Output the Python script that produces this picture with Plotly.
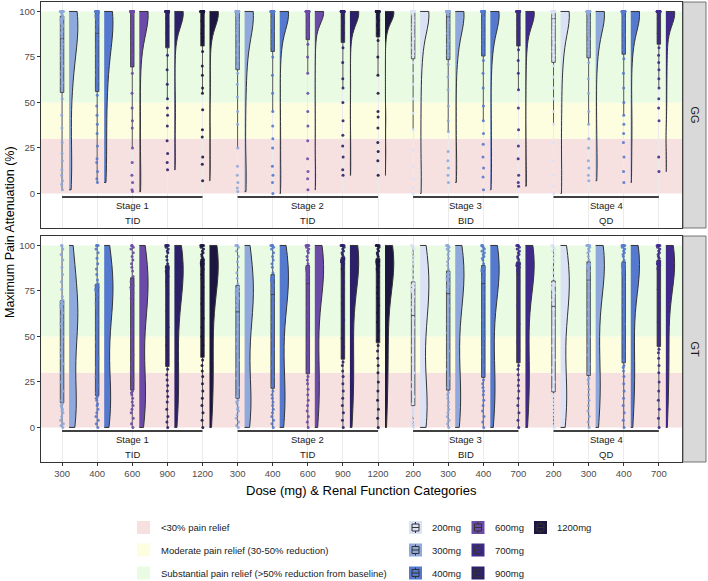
import plotly.graph_objects as go

# ------------------------------------------------------------------ data
TICK_LABELS = ["300", "400", "600", "900", "1200",
               "300", "400", "600", "900", "1200",
               "200", "300", "400", "700",
               "200", "300", "400", "700"]
STAGE_OF = ["Stage 1"] * 5 + ["Stage 2"] * 5 + ["Stage 3"] * 4 + ["Stage 4"] * 4
REGIMEN = {"Stage 1": "TID", "Stage 2": "TID", "Stage 3": "BID", "Stage 4": "QD"}
GENOTYPES = ["GG", "GT"]

DOSE_COLORS = {"200mg": "#dbe2f5", "300mg": "#8fa9dc", "400mg": "#5579cf",
               "600mg": "#6b4aa8", "700mg": "#3f2a8c", "900mg": "#2c2068",
               "1200mg": "#1c1640"}

BAND_LIMITS = [(0, 30), (30, 50), (50, 100)]
BAND_LABELS = ["<30% pain relief", "Moderate pain relief (30-50% reduction)",
               "Substantial pain relief (>50% reduction from baseline)"]
BAND_COLORS = ["#f7e0e0", "#fdfde0", "#e9fce3"]

# GG genotype, maximum pain attenuation (%) per dose group
gg_s1_300 = [2, 5, 7, 10, 13, 18, 22, 28, 36, 43, 52, 59, 61, 64, 67, 70, 73, 76, 78, 80, 82, 84,
             86, 88, 89, 91, 92, 93, 94, 95, 96, 96, 97, 98, 99, 100, 100, 100, 100, 100, 100, 100, 100, 100]
gg_s1_400 = [6, 8, 12, 17, 19, 26, 33, 38, 43, 48, 54, 58, 62, 65, 68, 71, 74, 77, 79, 82, 85, 87,
             89, 90, 92, 93, 94, 95, 96, 97, 97, 98, 99, 100, 100, 100, 100, 100, 100, 100, 100, 100, 100, 100]
gg_s1_600 = [1, 2, 6, 10, 17, 25, 36, 40, 47, 55, 66, 73, 76, 80, 84, 87, 90, 92, 94, 96, 98, 99,
             100, 100, 100, 100, 100, 100, 100, 100, 100, 100, 100, 100, 100, 100, 100, 100, 100, 100, 100, 100, 100, 100]
gg_s1_900 = [13, 17, 22, 29, 37, 43, 47, 52, 60, 68, 76, 84, 86, 88, 90, 92, 94, 96, 97, 98, 99, 100,
             100, 100, 100, 100, 100, 100, 100, 100, 100, 100, 100, 100, 100, 100, 100, 100, 100, 100, 100, 100, 100, 100]
gg_s1_1200 = [7, 16, 20, 31, 35, 46, 55, 58, 65, 70, 78, 84, 86, 88, 90, 92, 94, 95, 97, 98, 99, 100,
              100, 100, 100, 100, 100, 100, 100, 100, 100, 100, 100, 100, 100, 100, 100, 100, 100, 100, 100, 100, 100, 100]
gg_s2_300 = [1, 3, 6, 10, 15, 25, 38, 45, 53, 60, 66, 70, 73, 76, 79, 82, 85, 88, 90, 92, 94, 96,
             97, 98, 99, 100, 100, 100, 100, 100, 100, 100, 100, 100, 100, 100, 100, 100, 100, 100, 100, 100, 100, 100]
gg_s2_400 = [0, 6, 10, 15, 25, 30, 37, 45, 55, 65, 75, 81, 83, 85, 87, 89, 91, 93, 95, 96, 98, 99,
             100, 100, 100, 100, 100, 100, 100, 100, 100, 100, 100, 100, 100, 100, 100, 100, 100, 100, 100, 100, 100, 100]
gg_s2_600 = [2, 8, 12, 19, 29, 37, 45, 55, 66, 75, 82, 87, 89, 91, 93, 95, 97, 98, 99,
             100, 100, 100, 100, 100, 100, 100, 100, 100, 100, 100, 100, 100, 100, 100, 100, 100, 100, 100, 100, 100, 100, 100, 100, 100]
gg_s2_900 = [10, 13, 20, 26, 32, 40, 50, 58, 63, 72, 80, 86, 88, 90, 92, 94, 96, 97, 98, 99,
             100, 100, 100, 100, 100, 100, 100, 100, 100, 100, 100, 100, 100, 100, 100, 100, 100, 100, 100, 100, 100, 100, 100, 100]
gg_s2_1200 = [10, 18, 23, 28, 36, 42, 45, 55, 65, 75, 84, 88, 90, 92, 93, 95, 96, 97, 98, 99,
              100, 100, 100, 100, 100, 100, 100, 100, 100, 100, 100, 100, 100, 100, 100, 100, 100, 100, 100, 100, 100, 100, 100, 100]
gg_s3_200 = [0, 3, 8, 15, 24, 35, 44, 52, 60, 66, 72, 76, 78, 80, 83, 85, 87, 89, 91, 93, 95, 97, 98, 99,
             100, 100, 100, 100, 100, 100, 100, 100, 100, 100, 100, 100, 100, 100, 100, 100, 100, 100, 100, 100]
gg_s3_300 = [6, 10, 14, 18, 23, 34, 40, 48, 57, 64, 71, 76, 78, 80, 82, 84, 86, 88, 90, 92, 94, 96, 98, 99,
             100, 100, 100, 100, 100, 100, 100, 100, 100, 100, 100, 100, 100, 100, 100, 100, 100, 100, 100, 100]
gg_s3_400 = [2, 9, 14, 20, 27, 33, 40, 48, 58, 66, 73, 78, 80, 82, 84, 86, 88, 90, 92, 94, 96, 97, 98, 99,
             100, 100, 100, 100, 100, 100, 100, 100, 100, 100, 100, 100, 100, 100, 100, 100, 100, 100, 100, 100]
gg_s3_700 = [4, 6, 10, 19, 26, 35, 47, 57, 66, 73, 79, 83, 85, 87, 89, 91, 93, 95, 96, 97, 98, 99,
             100, 100, 100, 100, 100, 100, 100, 100, 100, 100, 100, 100, 100, 100, 100, 100, 100, 100, 100, 100, 100, 100]
gg_s4_200 = [0, 4, 10, 18, 28, 38, 45, 52, 58, 64, 70, 74, 76, 78, 80, 83, 85, 87, 89, 91, 93, 95, 97, 99,
             100, 100, 100, 100, 100, 100, 100, 100, 100, 100, 100, 100, 100, 100, 100, 100, 100, 100, 100, 100]
gg_s4_300 = [7, 10, 14, 18, 25, 30, 38, 45, 55, 63, 72, 77, 79, 81, 83, 85, 87, 89, 91, 93, 95, 97, 98, 99,
             100, 100, 100, 100, 100, 100, 100, 100, 100, 100, 100, 100, 100, 100, 100, 100, 100, 100, 100, 100]
gg_s4_400 = [6, 12, 20, 28, 33, 38, 43, 50, 58, 66, 74, 79, 81, 83, 85, 87, 89, 91, 93, 95, 96, 97, 98, 99,
             100, 100, 100, 100, 100, 100, 100, 100, 100, 100, 100, 100, 100, 100, 100, 100, 100, 100, 100, 100]
gg_s4_700 = [12, 20, 40, 47, 52, 58, 63, 68, 72, 76, 80, 84, 86, 88, 90, 92, 94, 96, 97, 98, 99,
             100, 100, 100, 100, 100, 100, 100, 100, 100, 100, 100, 100, 100, 100, 100, 100, 100, 100, 100, 100, 100, 100, 100]

# GT genotype
gt_s1_300 = [0, 1, 2, 4, 6, 8, 9, 10, 11, 12, 13, 15, 20, 25, 30, 35, 38, 41, 44, 47, 50, 53,
             55, 57, 59, 61, 63, 65, 66, 67, 68, 69, 70, 72, 76, 80, 84, 88, 92, 95, 98, 100, 100]
gt_s1_400 = [0, 2, 4, 6, 8, 10, 12, 13, 15, 16, 17, 19, 23, 28, 33, 38, 43, 47, 52, 56, 60, 63,
             66, 68, 70, 72, 73, 74, 75, 76, 77, 78, 79, 81, 84, 87, 90, 93, 96, 98, 100, 100, 100]
gt_s1_600 = [0, 2, 5, 8, 10, 12, 14, 16, 18, 19, 20, 22, 26, 30, 35, 40, 45, 50, 54, 58, 62, 66,
             69, 71, 72, 73, 74, 75, 76, 77, 78, 80, 83, 86, 88, 90, 92, 94, 96, 98, 99, 100, 100]
gt_s1_900 = [0, 3, 6, 10, 14, 17, 20, 23, 26, 29, 32, 35, 40, 45, 50, 55, 60, 64, 67, 70, 73, 76,
             78, 80, 81, 82, 83, 84, 85, 86, 87, 88, 88, 90, 92, 94, 96, 97, 98, 99, 100, 100, 100, 100]
gt_s1_1200 = [0, 4, 8, 12, 16, 20, 24, 28, 31, 34, 37, 40, 45, 50, 55, 60, 64, 68, 71, 74, 77, 80,
              82, 84, 85, 86, 87, 88, 89, 90, 90, 91, 92, 93, 94, 95, 96, 97, 98, 99, 100, 100, 100, 100]
gt_s2_300 = [0, 1, 3, 5, 7, 9, 10, 11, 13, 14, 15, 17, 22, 27, 32, 37, 42, 46, 50, 54, 58, 62,
             65, 67, 69, 70, 71, 72, 73, 74, 75, 76, 77, 79, 82, 85, 88, 91, 94, 97, 99, 100, 100, 100]
gt_s2_400 = [0, 2, 4, 6, 8, 10, 12, 14, 16, 18, 20, 23, 28, 33, 38, 43, 48, 53, 58, 63, 68, 72,
             74, 75, 76, 77, 78, 79, 80, 81, 82, 82, 83, 85, 88, 90, 92, 94, 96, 98, 99, 100, 100, 100]
gt_s2_600 = [0, 3, 6, 9, 12, 15, 18, 21, 24, 26, 28, 31, 36, 41, 46, 51, 56, 61, 66, 70, 74, 78,
             80, 81, 82, 83, 84, 85, 86, 87, 87, 88, 88, 90, 92, 94, 96, 97, 98, 99, 100, 100, 100, 100]
gt_s2_900 = [0, 4, 8, 12, 16, 20, 24, 28, 31, 34, 36, 39, 44, 49, 54, 59, 64, 68, 72, 76, 80, 84,
             86, 87, 88, 89, 90, 90, 91, 91, 92, 92, 93, 94, 95, 96, 97, 98, 99, 100, 100, 100, 100, 100]
gt_s2_1200 = [0, 5, 10, 15, 20, 25, 30, 34, 38, 42, 45, 48, 53, 58, 63, 67, 71, 74, 77, 80, 83, 85,
              86, 87, 88, 89, 89, 90, 90, 91, 91, 92, 92, 94, 95, 96, 97, 98, 99, 100, 100, 100, 100, 100]
gt_s3_200 = [0, 1, 2, 3, 4, 6, 7, 8, 9, 10, 11, 13, 17, 21, 25, 30, 35, 40, 45, 50, 55, 60,
             63, 66, 68, 70, 72, 74, 75, 76, 77, 78, 79, 81, 84, 87, 90, 92, 94, 96, 98, 99, 100, 100]
gt_s3_300 = [0, 2, 4, 6, 8, 10, 12, 14, 16, 18, 19, 22, 27, 32, 37, 42, 47, 52, 57, 62, 67, 72,
             75, 76, 77, 78, 79, 80, 81, 82, 83, 84, 85, 87, 89, 91, 93, 95, 97, 98, 99, 100, 100, 100]
gt_s3_400 = [0, 3, 6, 9, 12, 15, 18, 20, 22, 24, 26, 29, 34, 39, 44, 49, 54, 59, 64, 69, 74, 78,
             80, 81, 82, 83, 84, 85, 86, 86, 87, 87, 88, 90, 92, 93, 94, 95, 96, 97, 98, 99, 100, 100]
gt_s3_700 = [0, 4, 8, 12, 16, 20, 23, 26, 29, 32, 34, 37, 42, 47, 52, 57, 62, 67, 72, 76, 80, 83,
             85, 86, 87, 87, 88, 88, 89, 89, 90, 90, 90, 92, 93, 94, 95, 96, 97, 98, 99, 100, 100, 100]
gt_s4_200 = [0, 1, 3, 5, 7, 9, 11, 13, 15, 17, 18, 21, 25, 29, 33, 37, 41, 45, 50, 55, 60, 65,
             68, 70, 72, 73, 74, 75, 76, 77, 78, 79, 79, 82, 85, 88, 91, 93, 95, 97, 98, 99, 100, 100]
gt_s4_300 = [0, 3, 6, 9, 12, 15, 18, 21, 24, 26, 27, 30, 35, 40, 45, 50, 55, 60, 65, 70, 75, 80,
             82, 83, 84, 85, 86, 87, 88, 88, 89, 89, 90, 92, 94, 96, 97, 98, 99, 100, 100, 100, 100, 100]
gt_s4_400 = [0, 4, 8, 12, 16, 20, 24, 28, 31, 33, 34, 37, 42, 47, 52, 57, 62, 67, 72, 76, 80, 83,
             84, 85, 86, 87, 87, 88, 88, 89, 89, 90, 90, 92, 94, 95, 96, 97, 98, 99, 100, 100, 100, 100]
gt_s4_700 = [0, 5, 10, 15, 20, 25, 30, 34, 38, 41, 43, 46, 52, 58, 63, 68, 72, 76, 79, 82, 84, 86,
             87, 87, 88, 88, 89, 89, 90, 90, 90, 91, 91, 93, 94, 95, 96, 97, 98, 99, 100, 100, 100, 100]

GG_VALUES = [gg_s1_300, gg_s1_400, gg_s1_600, gg_s1_900, gg_s1_1200,
             gg_s2_300, gg_s2_400, gg_s2_600, gg_s2_900, gg_s2_1200,
             gg_s3_200, gg_s3_300, gg_s3_400, gg_s3_700,
             gg_s4_200, gg_s4_300, gg_s4_400, gg_s4_700]
GT_VALUES = [gt_s1_300, gt_s1_400, gt_s1_600, gt_s1_900, gt_s1_1200,
             gt_s2_300, gt_s2_400, gt_s2_600, gt_s2_900, gt_s2_1200,
             gt_s3_200, gt_s3_300, gt_s3_400, gt_s3_700,
             gt_s4_200, gt_s4_300, gt_s4_400, gt_s4_700]
PANEL_VALUES = {"GG": GG_VALUES, "GT": GT_VALUES}

# ------------------------------------------------------------------ layout helpers
W, H = 708, 581
ML, MR, MT, MB = 41, 26, 2, 119
PW, PH = W - ML - MR, H - MT - MB
FONT = "Liberation Sans, Arial, sans-serif"
DARK = "#333333"


def px_x(px):
    return (px - ML) / PW


def px_y(py):
    return (H - MB - py) / PH


panel_px = {"GG": (2, 228), "GT": (236, 462)}
axes = {"GG": ("x", "y"), "GT": ("x2", "y2")}

fig = go.Figure()

for gtype in GENOTYPES:
    xa, ya = axes[gtype]
    for i, vals in enumerate(PANEL_VALUES[gtype]):
        dose = TICK_LABELS[i] + "mg"
        col = DOSE_COLORS[dose]
        fig.add_trace(go.Violin(
            x=[i + 0.2] * len(vals), y=vals, xaxis=xa, yaxis=ya,
            side="positive", width=0.5, scalegroup=gtype, scalemode="width",
            spanmode="hard", points=False, fillcolor=col, opacity=1,
            line=dict(color=DARK, width=1), showlegend=False, hoverinfo="skip",
            box_visible=False, meanline_visible=False))
        fig.add_trace(go.Box(
            x=[i] * len(vals), y=vals, xaxis=xa, yaxis=ya,
            boxpoints="all", jitter=1.0, pointpos=0, width=0.1,
            fillcolor=col, line=dict(color=DARK, width=0.8), whiskerwidth=0,
            marker=dict(color=col, size=3, opacity=0.9),
            showlegend=False, hoverinfo="skip"))

shapes = []
annotations = []
n_cat = len(TICK_LABELS)
stages = []
for s in STAGE_OF:
    if s not in stages:
        stages.append(s)


def paper_text(x, y, text, size, xanchor="center", yanchor="middle", angle=0, color="#1a1a1a"):
    return dict(x=x, y=y, xref="paper", yref="paper", text=text, showarrow=False,
                xanchor=xanchor, yanchor=yanchor, textangle=angle,
                font=dict(size=size, color=color, family=FONT))


for gtype in GENOTYPES:
    xa, ya = axes[gtype]
    for (lo, hi), bc in zip(BAND_LIMITS, BAND_COLORS):
        shapes.append(dict(type="rect", xref=xa + " domain", yref=ya, x0=0, x1=1,
                           y0=lo, y1=hi, fillcolor=bc, line=dict(width=0), layer="below"))
    for s in stages:
        idx = [k for k, v in enumerate(STAGE_OF) if v == s]
        a, b = min(idx), max(idx)
        shapes.append(dict(type="line", xref=xa, yref=ya, x0=a, x1=b, y0=-2, y1=-2,
                           line=dict(color="black", width=1.5)))
        annotations.append(dict(x=(a + b) / 2, y=-6.8, xref=xa, yref=ya, text=s,
                                xanchor="center", yanchor="middle", showarrow=False,
                                font=dict(size=9.5, color="#1a1a1a", family=FONT)))
        annotations.append(dict(x=(a + b) / 2, y=-14.8, xref=xa, yref=ya, text=REGIMEN[s],
                                xanchor="center", yanchor="middle", showarrow=False,
                                font=dict(size=9.5, color="#1a1a1a", family=FONT)))
    top, bot = panel_px[gtype]
    shapes.append(dict(type="rect", xref="paper", yref="paper",
                       x0=px_x(683), x1=px_x(706), y0=px_y(bot), y1=px_y(top),
                       fillcolor="#d9d9d9", line=dict(color="#555555", width=0.8)))
    annotations.append(paper_text(px_x(694.5), px_y((top + bot) / 2), gtype, 11, angle=90))

annotations.append(paper_text(px_x(361.5), px_y(490), "Dose (mg) & Renal Function Categories",
                              13, color="black"))
annotations.append(paper_text(px_x(10), px_y(232), "Maximum Pain Attenuation (%)", 12.5,
                              angle=-90, color="black"))

row_y = [527.5, 550, 573]
for k, (lab, bc) in enumerate(zip(BAND_LABELS, BAND_COLORS)):
    cy = row_y[k]
    shapes.append(dict(type="rect", xref="paper", yref="paper",
                       x0=px_x(137), x1=px_x(150), y0=px_y(cy + 6.5), y1=px_y(cy - 6.5),
                       fillcolor=bc, line=dict(width=0)))
    annotations.append(paper_text(px_x(159), px_y(cy), lab, 9.5, xanchor="left"))

dose_order = list(DOSE_COLORS.keys())
col_x = [409, 471.5, 534]
for k, dose in enumerate(dose_order):
    c, r = divmod(k, 3)
    cx = col_x[c] + 6.5
    cy = row_y[r]
    col = DOSE_COLORS[dose]
    shapes.append(dict(type="rect", xref="paper", yref="paper",
                       x0=px_x(cx - 6.5), x1=px_x(cx + 6.5), y0=px_y(cy + 6.5), y1=px_y(cy - 6.5),
                       fillcolor=col, line=dict(width=0)))
    shapes.append(dict(type="line", xref="paper", yref="paper",
                       x0=px_x(cx), x1=px_x(cx), y0=px_y(cy + 5.5), y1=px_y(cy - 5.5),
                       line=dict(color=DARK, width=1)))
    shapes.append(dict(type="rect", xref="paper", yref="paper",
                       x0=px_x(cx - 3.5), x1=px_x(cx + 3.5), y0=px_y(cy + 3.5), y1=px_y(cy - 3.5),
                       fillcolor=col, line=dict(color=DARK, width=1)))
    shapes.append(dict(type="line", xref="paper", yref="paper",
                       x0=px_x(cx - 3.5), x1=px_x(cx + 3.5), y0=px_y(cy), y1=px_y(cy),
                       line=dict(color=DARK, width=1)))
    annotations.append(paper_text(px_x(col_x[c] + 21), px_y(cy), dose, 9.5, xanchor="left"))

xcommon = dict(range=[-0.6, 17.66], tickvals=list(range(n_cat)), ticktext=TICK_LABELS,
               showgrid=True, gridcolor="#ebebeb", gridwidth=1, zeroline=False,
               showline=True, mirror=True, linecolor=DARK, linewidth=1,
               tickfont=dict(size=9.5, color="#4d4d4d", family=FONT))
ycommon = dict(range=[-19.0, 105.2], tickvals=[0, 25, 50, 75, 100], showgrid=False,
               zeroline=False, showline=True, mirror=True, linecolor=DARK, linewidth=1,
               ticks="outside", ticklen=3, tickcolor=DARK,
               tickfont=dict(size=9.5, color="#4d4d4d", family=FONT))

top_dom = [px_y(228), 1]
bot_dom = [0, px_y(236)]

fig.update_layout(
    width=W, height=H, margin=dict(l=ML, r=MR, t=MT, b=MB),
    paper_bgcolor="white", plot_bgcolor="white",
    violinmode="overlay", boxmode="overlay", showlegend=False,
    font=dict(family=FONT),
    xaxis=dict(xcommon, anchor="y", showticklabels=False, ticks=""),
    yaxis=dict(ycommon, anchor="x", domain=top_dom),
    xaxis2=dict(xcommon, anchor="y2", matches="x", ticks="outside", ticklen=3, tickcolor=DARK),
    yaxis2=dict(ycommon, anchor="x2", domain=bot_dom),
    shapes=shapes, annotations=annotations,
)

fig.write_html("out.html")
